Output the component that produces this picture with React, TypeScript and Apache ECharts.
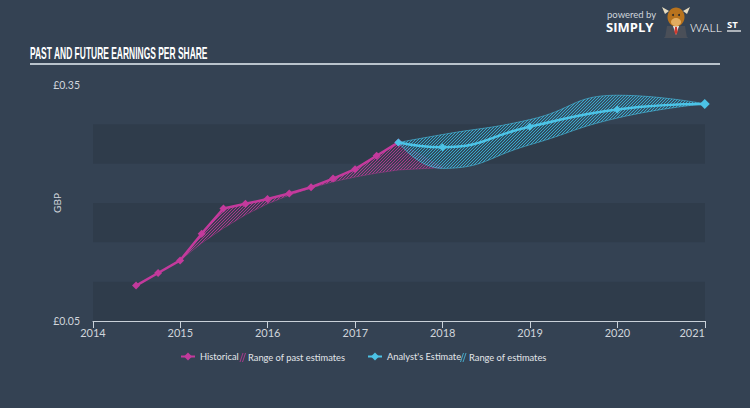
import React, { useEffect, useRef } from "react";
import * as echarts from "echarts";

// ---------- data ----------
const histDates = [
  "2014-06-30", "2014-09-30", "2014-12-31", "2015-03-31", "2015-06-30", "2015-09-30",
  "2015-12-31", "2016-03-31", "2016-06-30", "2016-09-30", "2016-12-31", "2017-03-31", "2017-06-30",
];
const histEPS = [0.095, 0.111, 0.127, 0.161, 0.193, 0.199, 0.205, 0.212, 0.22, 0.231, 0.243, 0.26, 0.277];

const pastRangeDates = [
  "2014-12-31", "2015-03-31", "2015-06-30", "2015-09-30", "2015-12-31", "2016-03-31",
  "2016-06-30", "2016-09-30", "2016-12-31", "2017-03-31", "2017-06-30", "2017-12-31",
];
const pastRangeLow = [0.127, 0.149, 0.168, 0.185, 0.199, 0.21, 0.219, 0.227, 0.233, 0.238, 0.242, 0.245];
const pastRangeHigh = [0.127, 0.161, 0.193, 0.199, 0.205, 0.212, 0.22, 0.231, 0.243, 0.26, 0.277, 0.245];

const estDates = ["2017-06-30", "2017-12-31", "2018-12-31", "2019-12-31", "2020-12-31"];
const estEPS = [0.277, 0.271, 0.297, 0.319, 0.326];
const estLow = [0.277, 0.244, 0.274, 0.308, 0.326];
const estHigh = [0.277, 0.287, 0.306, 0.337, 0.326];

const xStartYear = 2014;
const xEndYear = 2021;
const yLabelValues = [0.05, 0.35];

// ---------- helpers ----------
const parseDate = (s: string) => {
  const [y, m, d] = s.split("-").map(Number);
  return new Date(y, m - 1, d).getTime();
};
const pts = (dates: string[], vals: number[]) => dates.map((d, i) => [parseDate(d), vals[i]]);
const diffPts = (dates: string[], lo: number[], hi: number[]) =>
  dates.map((d, i) => [parseDate(d), +(hi[i] - lo[i]).toFixed(4)]);

const PINK = "#c33a9c";
const CYAN = "#4cc3e6";
const BG = "#344253";
const YEAR = 365.25 * 24 * 3600 * 1000;

function hatch(line: string, tint: string) {
  const s = 3;
  const c = document.createElement("canvas");
  c.width = s;
  c.height = s;
  const ctx = c.getContext("2d")!;
  ctx.fillStyle = tint;
  ctx.fillRect(0, 0, s, s);
  ctx.strokeStyle = line;
  ctx.lineWidth = 0.9;
  ctx.beginPath();
  ctx.moveTo(0, s);
  ctx.lineTo(s, 0);
  ctx.moveTo(-1, 1);
  ctx.lineTo(1, -1);
  ctx.moveTo(s - 1, s + 1);
  ctx.lineTo(s + 1, s - 1);
  ctx.stroke();
  return { image: c.toDataURL(), imageWidth: s, imageHeight: s, repeat: "repeat" as const };
}

function measure(text: string, font: string) {
  const c = document.createElement("canvas");
  const ctx = c.getContext("2d")!;
  ctx.font = font;
  return ctx.measureText(text).width;
}

// small "//" hatch legend icon drawn as two thin parallelograms
const hatchIconPolys = (x: number, y: number, color: string) => [
  {
    type: "polygon",
    z: 100,
    shape: { points: [[x, y + 9], [x + 3, y], [x + 4, y], [x + 1, y + 9]] },
    style: { fill: color },
  },
  {
    type: "polygon",
    z: 100,
    shape: { points: [[x + 2.5, y + 9], [x + 5.5, y], [x + 6.5, y], [x + 3.5, y + 9]] },
    style: { fill: color },
  },
];

export default function App() {
  const ref = useRef<HTMLDivElement>(null);
  useEffect(() => {
    document.body.style.margin = "0";
    if (!ref.current) return;
    const chart = echarts.init(ref.current, null, { renderer: "svg" });
    const title = "PAST AND FUTURE EARNINGS PER SHARE";
    const titleFont = 'bold 16px "Liberation Sans", Arial, sans-serif';
    const tw = measure(title, titleFont) || 300;
    const titleScale = 178 / tw;

    const legendText = { color: "#e3e6ea", fontSize: 9.3, fontFamily: "Lato" };
    const legendBase = { top: 352, padding: 0, itemHeight: 10, textStyle: legendText };

    chart.setOption({
      animation: false,
      backgroundColor: BG,
      grid: { left: 93, right: 45, top: 85, bottom: 87 },
      xAxis: {
        type: "time",
        min: new Date(xStartYear, 0, 1).getTime(),
        max: new Date(xEndYear, 0, 1).getTime(),
        minInterval: YEAR * 0.99,
        maxInterval: YEAR * 1.01,
        splitNumber: xEndYear - xStartYear,
        axisLine: { show: true, lineStyle: { color: "#c9d1d9", width: 1 } },
        axisTick: { show: true, length: 7, lineStyle: { color: "#c9d1d9" } },
        splitLine: { show: false },
        axisLabel: {
          color: "#d0d5db",
          fontSize: 11,
          fontFamily: "Lato",
          margin: 6,
          alignMaxLabel: "right",
          showMinLabel: true,
          showMaxLabel: true,
          hideOverlap: false,
          formatter: (v: number) => String(new Date(v + 2 * 24 * 3600 * 1000).getFullYear()),
        },
      },
      yAxis: {
        type: "value",
        min: 0.05,
        max: 0.35,
        interval: 0.05,
        name: "GBP",
        nameLocation: "middle",
        nameRotate: 90,
        nameGap: 31,
        nameMoveOverlap: false,
        nameTextStyle: { color: "#d0d5db", fontSize: 10, fontFamily: "Lato" },
        axisLine: { show: false },
        axisTick: { show: false },
        splitLine: { show: false },
        splitArea: { show: true, areaStyle: { color: ["rgba(0,0,0,0.09)", "rgba(0,0,0,0)"] } },
        axisLabel: {
          color: "#d0d5db",
          fontSize: 10.5,
          fontFamily: "Lato",
          margin: 13,
          formatter: (v: number) =>
            yLabelValues.some((t) => Math.abs(t - v) < 1e-6) ? "£" + v.toFixed(2) : "",
        },
      },
      legend: [
        { ...legendBase, left: 180, itemWidth: 14, data: [{ name: "Historical" }] },
        { ...legendBase, left: 237, itemWidth: 6, data: [{ name: "Range of past estimates", icon: "none" }] },
        { ...legendBase, left: 367, itemWidth: 14, data: [{ name: "Analyst's Estimate" }] },
        { ...legendBase, left: 458, itemWidth: 6, data: [{ name: "Range of estimates", icon: "none" }] },
      ],
      series: [
        {
          name: "pastLow",
          type: "line",
          stack: "past",
          data: pts(pastRangeDates, pastRangeLow),
          symbol: "none",
          lineStyle: { color: PINK, width: 0.6, opacity: 0.7 },
          z: 1,
        },
        {
          name: "Range of past estimates",
          type: "line",
          stack: "past",
          data: diffPts(pastRangeDates, pastRangeLow, pastRangeHigh),
          symbol: "none",
          itemStyle: { color: PINK },
          lineStyle: { color: PINK, width: 0.5, opacity: 0.6 },
          areaStyle: { color: hatch("rgba(205,55,160,0.85)", "rgba(195,58,156,0.08)"), opacity: 1 },
          z: 1,
        },
        {
          name: "estLow",
          type: "line",
          stack: "est",
          smooth: 0.5,
          data: pts(estDates, estLow),
          symbol: "none",
          lineStyle: { color: CYAN, width: 0.7, opacity: 0.85 },
          z: 2,
        },
        {
          name: "Range of estimates",
          type: "line",
          stack: "est",
          smooth: 0.5,
          data: diffPts(estDates, estLow, estHigh),
          symbol: "none",
          itemStyle: { color: CYAN },
          lineStyle: { color: CYAN, width: 0.7, opacity: 0.85 },
          areaStyle: { color: hatch("rgba(60,190,228,0.9)", "rgba(60,190,228,0.12)"), opacity: 1 },
          z: 2,
        },
        {
          name: "Historical",
          type: "line",
          data: pts(histDates, histEPS),
          symbol: "diamond",
          symbolSize: 8,
          itemStyle: { color: PINK },
          lineStyle: { color: PINK, width: 2.5 },
          z: 5,
        },
        {
          name: "Analyst's Estimate",
          type: "line",
          smooth: 0.5,
          data: pts(estDates, estEPS).map((p, i, arr) =>
            i === arr.length - 1 ? { value: p, symbolSize: 10 } : p
          ),
          symbol: "diamond",
          symbolSize: 8,
          itemStyle: { color: CYAN },
          lineStyle: { color: CYAN, width: 2.5 },
          z: 6,
        },
      ],
      graphic: [
        ...hatchIconPolys(239.5, 353, "rgba(195,58,156,0.8)"),
        ...hatchIconPolys(460, 353, "rgba(76,195,230,0.8)"),
        {
          type: "text",
          x: 30,
          y: 53,
          scaleX: titleScale,
          style: {
            text: title,
            font: titleFont,
            fill: "#ffffff",
            verticalAlign: "middle",
          },
        },
        {
          type: "line",
          shape: { x1: 30, y1: 64, x2: 720, y2: 64 },
          style: { stroke: "#b9c3cc", lineWidth: 2 },
        },
        // logo
        {
          type: "text",
          x: 607,
          y: 14,
          style: { text: "powered by", fill: "#cfd5dc", fontSize: 9.5, fontFamily: "Lato", verticalAlign: "middle" },
        },
        {
          type: "text",
          x: 606,
          y: 27,
          style: {
            text: "SIMPLY",
            fill: "#ffffff",
            fontSize: 13,
            fontWeight: "bold",
            fontFamily: "Open Sans",
            verticalAlign: "middle",
          },
        },
        {
          type: "group",
          x: 676,
          y: 19,
          children: [
            { type: "polygon", shape: { points: [[-4, 13], [-12, 19], [12, 19], [4, 13]] }, style: { fill: "#555a62" } },
            { type: "polygon", shape: { points: [[-11, 19], [-9, 7], [9, 7], [11, 19]] }, style: { fill: "#4a4f58" } },
            { type: "polygon", shape: { points: [[-3, 7], [3, 7], [0, 16]] }, style: { fill: "#f2f2f2" } },
            { type: "polygon", shape: { points: [[-1, 8], [1, 8], [1.6, 13], [0, 16], [-1.6, 13]] }, style: { fill: "#d23a2e" } },
            { type: "polygon", shape: { points: [[-7, -8], [-14, -12], [-11, -5]] }, style: { fill: "#e7dcc0" } },
            { type: "polygon", shape: { points: [[7, -8], [14, -12], [11, -5]] }, style: { fill: "#e7dcc0" } },
            { type: "ellipse", shape: { cx: 0, cy: -2, rx: 8.5, ry: 9.5 }, style: { fill: "#b8731d" } },
            { type: "ellipse", shape: { cx: 0, cy: 3, rx: 5, ry: 4 }, style: { fill: "#e3ad60" } },
            { type: "circle", shape: { cx: -3, cy: -4, r: 1 }, style: { fill: "#2a2a2a" } },
            { type: "circle", shape: { cx: 3, cy: -4, r: 1 }, style: { fill: "#2a2a2a" } },
          ],
        },
        {
          type: "text",
          x: 690,
          y: 27,
          style: {
            text: "WALL",
            fill: "#ffffff",
            fontSize: 12,
            fontWeight: 300,
            fontFamily: "Lato",
            verticalAlign: "middle",
          },
        },
        {
          type: "text",
          x: 727,
          y: 24,
          style: {
            text: "ST",
            fill: "#ffffff",
            fontSize: 9.5,
            fontWeight: "bold",
            fontFamily: "Open Sans",
            verticalAlign: "middle",
          },
        },
        {
          type: "line",
          shape: { x1: 727, y1: 31, x2: 741, y2: 31 },
          style: { stroke: "#ffffff", lineWidth: 1.2 },
        },
      ],
    });
    return () => chart.dispose();
  }, []);
  return <div ref={ref} style={{ width: 750, height: 408 }} />;
}
